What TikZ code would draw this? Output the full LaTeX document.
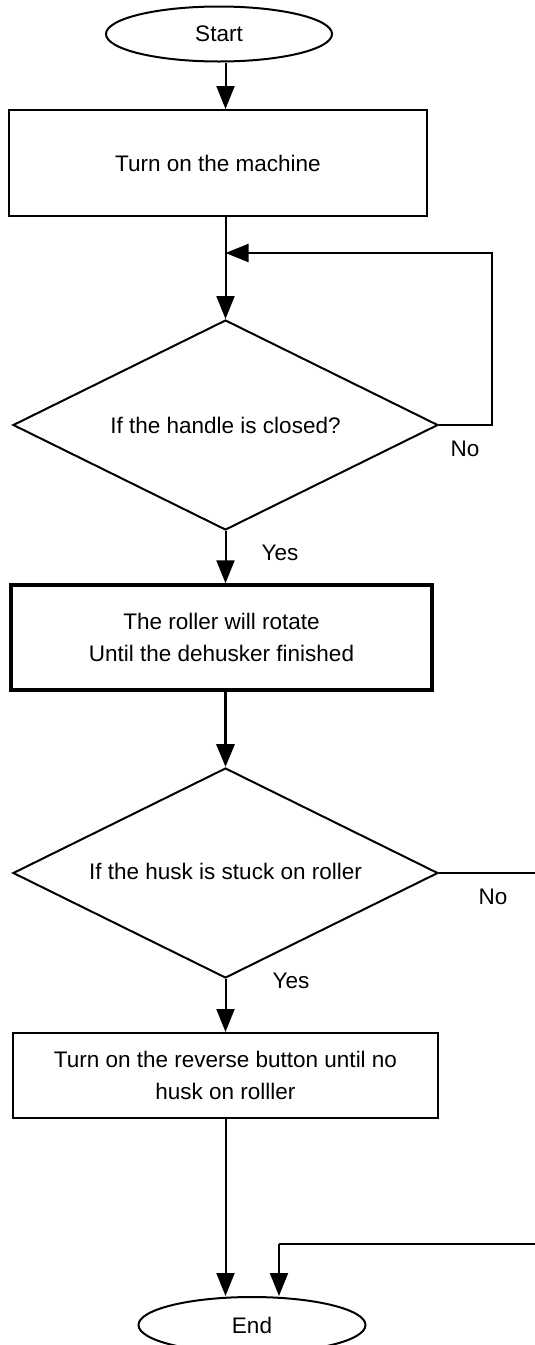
\documentclass[tikz,border=0pt]{standalone}
\usepackage{fontspec}
\setmainfont{Liberation Sans}
\usetikzlibrary{shapes.geometric,arrows.meta}
\begin{document}
\begin{tikzpicture}[x=1pt,y=-1pt,
  every node/.style={font=\fontsize{22.5}{32}\selectfont},
  thinln/.style={line width=2pt},
  thickln/.style={line width=3.5pt},
  arr/.style={-{Triangle[length=23pt,width=18pt]}},
  term/.style={draw,thinln,ellipse,inner sep=0pt,minimum width=226pt,minimum height=55pt},
  boxn/.style={draw,thinln,rectangle,inner sep=0pt,align=center},
  dec/.style={draw,thinln,diamond,inner sep=0pt,minimum width=425pt,minimum height=210pt},
  lbl/.style={inner sep=0pt}]
\useasboundingbox (0,0) rectangle (535,1345);
\node[term] (start) at (219,34) {Start};
\node[boxn,minimum width=418pt,minimum height=106pt] (box1) at (218,163) {Turn on the machine};
\node[dec] (d1) at (225.5,425) {};
\node at (225.5,425) {If the handle is closed?};
\node[boxn,thickln,minimum width=421pt,minimum height=105pt] (box2) at (221.5,637.5) {The roller will rotate\\Until the dehusker finished};
\node[dec] (d2) at (225.5,873) {};
\node at (225.5,871) {If the husk is stuck on roller};
\node[boxn,minimum width=425pt,minimum height=85pt] (box3) at (225.5,1075.5) {Turn on the reverse button until no\\husk on rolller};
\node[term,minimum width=227pt,minimum height=56pt] (end) at (252,1325) {End};
\node[lbl] (no1) at (465,449) {No};
\node[lbl] (yes1) at (280,553) {Yes};
\node[lbl] (no2) at (493,897) {No};
\node[lbl] (yes2) at (291,981) {Yes};
\coordinate (lp) at (492,253);
\coordinate (rr) at (537,1244);
\coordinate (ea) at (279,1244);
\draw[thinln,arr] (start.south -| d1) -- (box1.north -| d1);
\draw[thinln,arr] (box1.south -| d1) -- (d1.north);
\draw[thinln,arr] (d1.east) -| (lp) -- (lp -| d1);
\draw[thinln,arr] (d1.south) -- (box2.north -| d1);
\draw[thickln,arr] (box2.south -| d1) -- (d2.north);
\draw[thinln,arr] (d2.south) -- (box3.north -| d1);
\draw[thinln,arr] (box3.south -| d1) -- (d1 |- end.north);
\draw[thinln] (d2.east) -- (d2.east -| rr) -- (rr) -- (ea);
\draw[thinln,arr] (ea) -- (ea |- end.north);
\end{tikzpicture}
\end{document}
